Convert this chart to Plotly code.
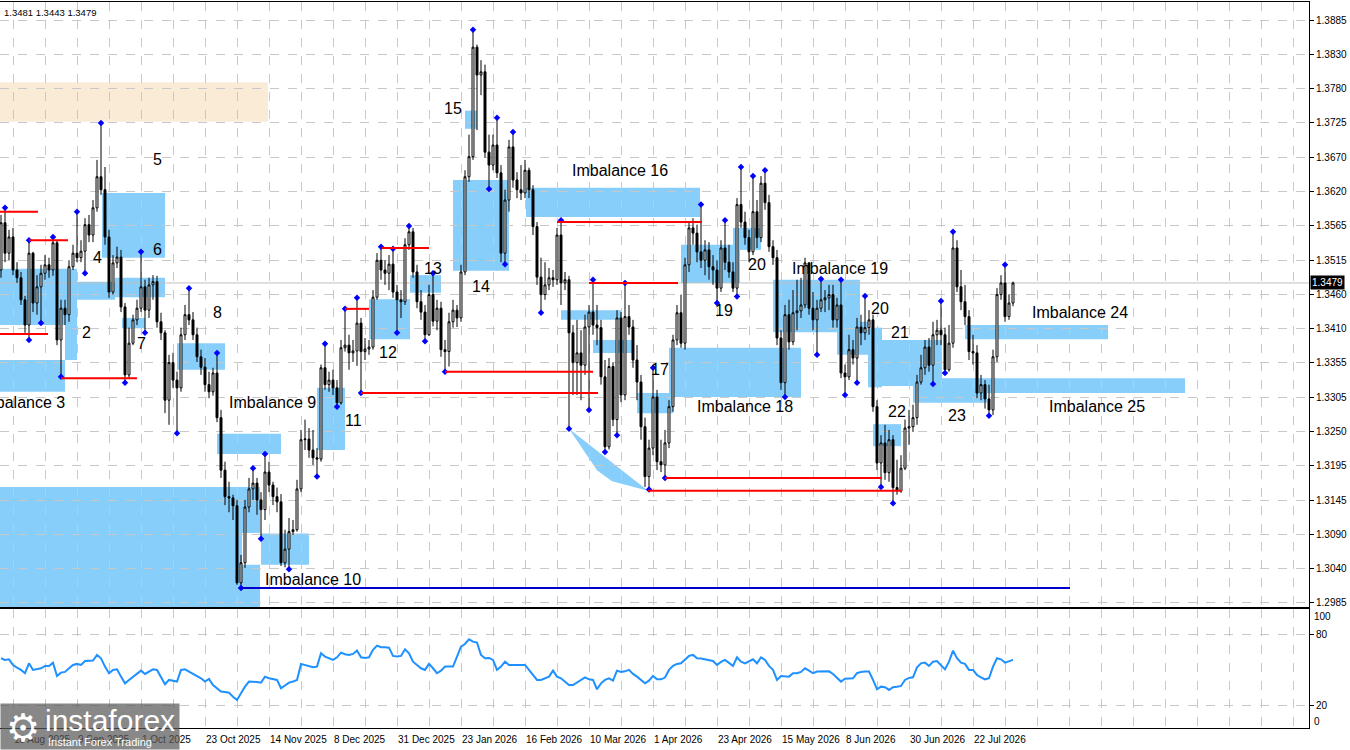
import plotly.graph_objects as go

# daily GBPUSD bars, one per trading day (bar 0 = 13 Aug 2025 ... bar 253 = 5 Aug 2026)
opens = [
    1.3499, 1.3572, 1.3525, 1.3550, 1.3499, 1.3487, 1.3453, 1.3414, 1.3525, 1.3448,
    1.3473, 1.3494, 1.3507, 1.3499, 1.3541, 1.3391, 1.3440, 1.3430, 1.3504, 1.3525,
    1.3518, 1.3528, 1.3569, 1.3553, 1.3595, 1.3643, 1.3623, 1.3550, 1.3465, 1.3510,
    1.3519, 1.3442, 1.3337, 1.3386, 1.3422, 1.3440, 1.3473, 1.3437, 1.3476, 1.3481,
    1.3419, 1.3402, 1.3298, 1.3356, 1.3329, 1.3317, 1.3399, 1.3430, 1.3422, 1.3399,
    1.3365, 1.3349, 1.3322, 1.3311, 1.3340, 1.3271, 1.3190, 1.3149, 1.3147, 1.3135,
    1.3016, 1.3047, 1.3133, 1.3161, 1.3170, 1.3144, 1.3129, 1.3187, 1.3167, 1.3149,
    1.3141, 1.3047, 1.3068, 1.3095, 1.3098, 1.3161, 1.3237, 1.3238, 1.3221, 1.3209,
    1.3207, 1.3348, 1.3322, 1.3329, 1.3317, 1.3294, 1.3379, 1.3383, 1.3371, 1.3374,
    1.3417, 1.3373, 1.3377, 1.3380, 1.3457, 1.3514, 1.3499, 1.3494, 1.3508, 1.3465,
    1.3453, 1.3450, 1.3538, 1.3558, 1.3496, 1.3450, 1.3434, 1.3399, 1.3461, 1.3420,
    1.3440, 1.3376, 1.3373, 1.3419, 1.3437, 1.3425, 1.3496, 1.3643, 1.3674, 1.3843,
    1.3800, 1.3805, 1.3681, 1.3661, 1.3692, 1.3649, 1.3525, 1.3607, 1.3689, 1.3638,
    1.3623, 1.3618, 1.3653, 1.3623, 1.3566, 1.3488, 1.3461, 1.3476, 1.3487, 1.3484,
    1.3553, 1.3479, 1.3484, 1.3402, 1.3356, 1.3371, 1.3352, 1.3411, 1.3434, 1.3414,
    1.3410, 1.3334, 1.3226, 1.3350, 1.3268, 1.3425, 1.3306, 1.3427, 1.3411, 1.3360,
    1.3326, 1.3257, 1.3180, 1.3224, 1.3303, 1.3203, 1.3198, 1.3232, 1.3288, 1.3391,
    1.3433, 1.3386, 1.3507, 1.3564, 1.3556, 1.3527, 1.3514, 1.3530, 1.3504, 1.3499,
    1.3471, 1.3533, 1.3511, 1.3496, 1.3471, 1.3600, 1.3573, 1.3549, 1.3527, 1.3589,
    1.3549, 1.3633, 1.3603, 1.3535, 1.3518, 1.3394, 1.3325, 1.3430, 1.3388, 1.3433,
    1.3436, 1.3445, 1.3510, 1.3440, 1.3422, 1.3440, 1.3453, 1.3456, 1.3461, 1.3422,
    1.3445, 1.3340, 1.3334, 1.3376, 1.3363, 1.3411, 1.3402, 1.3410, 1.3422, 1.3288,
    1.3201, 1.3232, 1.3186, 1.3237, 1.3163, 1.3158, 1.3193, 1.3255, 1.3257, 1.3271,
    1.3326, 1.3348, 1.3380, 1.3352, 1.3399, 1.3406, 1.3399, 1.3345, 1.3386, 1.3533,
    1.3473, 1.3450, 1.3427, 1.3373, 1.3371, 1.3309, 1.3322, 1.3300, 1.3283, 1.3365,
    1.3461, 1.3479, 1.3427, 1.3448,
]
highs = [
    1.3584, 1.3595, 1.3561, 1.3564, 1.3511, 1.3496, 1.3459, 1.3545, 1.3527, 1.3491,
    1.3507, 1.3522, 1.3518, 1.3550, 1.3545, 1.3453, 1.3453, 1.3514, 1.3538, 1.3589,
    1.3545, 1.3579, 1.3584, 1.3607, 1.3669, 1.3726, 1.3658, 1.3561, 1.3522, 1.3535,
    1.3530, 1.3448, 1.3410, 1.3430, 1.3453, 1.3527, 1.3484, 1.3487, 1.3491, 1.3490,
    1.3433, 1.3406, 1.3368, 1.3371, 1.3342, 1.3410, 1.3445, 1.3471, 1.3434, 1.3410,
    1.3376, 1.3363, 1.3342, 1.3348, 1.3371, 1.3283, 1.3203, 1.3172, 1.3152, 1.3144,
    1.3059, 1.3144, 1.3178, 1.3193, 1.3178, 1.3156, 1.3215, 1.3203, 1.3172, 1.3163,
    1.3153, 1.3098, 1.3116, 1.3113, 1.3175, 1.3252, 1.3268, 1.3255, 1.3252, 1.3224,
    1.3353, 1.3385, 1.3342, 1.3345, 1.3329, 1.3391, 1.3439, 1.3399, 1.3391, 1.3456,
    1.3425, 1.3394, 1.3391, 1.3468, 1.3525, 1.3535, 1.3514, 1.3522, 1.3532, 1.3476,
    1.3468, 1.3548, 1.3567, 1.3564, 1.3507, 1.3468, 1.3445, 1.3476, 1.3494, 1.3453,
    1.3450, 1.3391, 1.3433, 1.3453, 1.3445, 1.3507, 1.3653, 1.3708, 1.3870, 1.3847,
    1.3823, 1.3816, 1.3708, 1.3708, 1.3734, 1.3661, 1.3623, 1.3700, 1.3712, 1.3650,
    1.3661, 1.3669, 1.3657, 1.3630, 1.3573, 1.3518, 1.3511, 1.3502, 1.3499, 1.3564,
    1.3576, 1.3496, 1.3490, 1.3414, 1.3422, 1.3406, 1.3430, 1.3445, 1.3484, 1.3445,
    1.3422, 1.3360, 1.3363, 1.3356, 1.3437, 1.3434, 1.3479, 1.3445, 1.3422, 1.3383,
    1.3337, 1.3271, 1.3237, 1.3348, 1.3314, 1.3237, 1.3252, 1.3298, 1.3399, 1.3445,
    1.3461, 1.3518, 1.3573, 1.3579, 1.3569, 1.3600, 1.3545, 1.3542, 1.3522, 1.3514,
    1.3545, 1.3576, 1.3538, 1.3511, 1.3610, 1.3658, 1.3589, 1.3561, 1.3644, 1.3607,
    1.3644, 1.3653, 1.3615, 1.3545, 1.3530, 1.3406, 1.3445, 1.3453, 1.3468, 1.3484,
    1.3487, 1.3518, 1.3511, 1.3465, 1.3453, 1.3485, 1.3468, 1.3476, 1.3476, 1.3456,
    1.3484, 1.3353, 1.3399, 1.3391, 1.3425, 1.3430, 1.3459, 1.3437, 1.3430, 1.3298,
    1.3244, 1.3260, 1.3252, 1.3244, 1.3206, 1.3213, 1.3268, 1.3283, 1.3291, 1.3337,
    1.3368, 1.3391, 1.3394, 1.3419, 1.3422, 1.3451, 1.3410, 1.3414, 1.3558, 1.3545,
    1.3499, 1.3476, 1.3437, 1.3399, 1.3383, 1.3337, 1.3329, 1.3322, 1.3376, 1.3471,
    1.3491, 1.3507, 1.3461, 1.3481,
]
lows = [
    1.3487, 1.3511, 1.3514, 1.3491, 1.3479, 1.3445, 1.3402, 1.3391, 1.3434, 1.3430,
    1.3417, 1.3484, 1.3487, 1.3490, 1.3383, 1.3334, 1.3414, 1.3419, 1.3499, 1.3511,
    1.3511, 1.3494, 1.3542, 1.3542, 1.3589, 1.3615, 1.3538, 1.3456, 1.3461, 1.3502,
    1.3434, 1.3325, 1.3332, 1.3383, 1.3414, 1.3434, 1.3402, 1.3425, 1.3453, 1.3410,
    1.3391, 1.3278, 1.3260, 1.3317, 1.3247, 1.3311, 1.3391, 1.3414, 1.3391, 1.3357,
    1.3337, 1.3311, 1.3301, 1.3305, 1.3264, 1.3178, 1.3136, 1.3125, 1.3113, 1.3013,
    1.3008, 1.3039, 1.3125, 1.3144, 1.3121, 1.3084, 1.3113, 1.3156, 1.3136, 1.3125,
    1.3042, 1.3040, 1.3037, 1.3090, 1.3095, 1.3156, 1.3221, 1.3209, 1.3198, 1.3180,
    1.3203, 1.3314, 1.3311, 1.3306, 1.3288, 1.3291, 1.3373, 1.3345, 1.3357, 1.3351,
    1.3309, 1.3360, 1.3368, 1.3376, 1.3453, 1.3484, 1.3476, 1.3468, 1.3456, 1.3402,
    1.3425, 1.3445, 1.3530, 1.3487, 1.3440, 1.3422, 1.3389, 1.3397, 1.3412, 1.3406,
    1.3365, 1.3342, 1.3350, 1.3410, 1.3411, 1.3419, 1.3491, 1.3635, 1.3669, 1.3715,
    1.3769, 1.3672, 1.3624, 1.3653, 1.3641, 1.3511, 1.3508, 1.3589, 1.3626, 1.3610,
    1.3607, 1.3610, 1.3610, 1.3553, 1.3476, 1.3433, 1.3453, 1.3468, 1.3473, 1.3476,
    1.3445, 1.3468, 1.3254, 1.3306, 1.3306, 1.3298, 1.3337, 1.3283, 1.3399, 1.3383,
    1.3322, 1.3218, 1.3222, 1.3258, 1.3244, 1.3295, 1.3298, 1.3399, 1.3348, 1.3298,
    1.3237, 1.3164, 1.3160, 1.3213, 1.3190, 1.3187, 1.3178, 1.3224, 1.3280, 1.3383,
    1.3379, 1.3376, 1.3496, 1.3538, 1.3511, 1.3502, 1.3491, 1.3484, 1.3476, 1.3448,
    1.3465, 1.3499, 1.3487, 1.3465, 1.3458, 1.3564, 1.3538, 1.3511, 1.3522, 1.3533,
    1.3542, 1.3592, 1.3527, 1.3507, 1.3383, 1.3314, 1.3303, 1.3376, 1.3383, 1.3406,
    1.3425, 1.3440, 1.3430, 1.3406, 1.3368, 1.3434, 1.3434, 1.3437, 1.3410, 1.3410,
    1.3332, 1.3306, 1.3329, 1.3353, 1.3325, 1.3383, 1.3391, 1.3399, 1.3280, 1.3190,
    1.3164, 1.3175, 1.3172, 1.3139, 1.3152, 1.3155, 1.3190, 1.3229, 1.3249, 1.3260,
    1.3322, 1.3337, 1.3342, 1.3323, 1.3383, 1.3383, 1.3340, 1.3342, 1.3379, 1.3465,
    1.3437, 1.3414, 1.3360, 1.3353, 1.3301, 1.3298, 1.3285, 1.3274, 1.3275, 1.3357,
    1.3453, 1.3419, 1.3422, 1.3443,
]
closes = [
    1.3572, 1.3525, 1.3550, 1.3499, 1.3487, 1.3453, 1.3414, 1.3525, 1.3448, 1.3473,
    1.3494, 1.3507, 1.3499, 1.3541, 1.3391, 1.3440, 1.3430, 1.3504, 1.3525, 1.3518,
    1.3528, 1.3569, 1.3553, 1.3595, 1.3643, 1.3623, 1.3550, 1.3465, 1.3510, 1.3519,
    1.3442, 1.3337, 1.3386, 1.3422, 1.3440, 1.3473, 1.3437, 1.3476, 1.3481, 1.3419,
    1.3402, 1.3298, 1.3356, 1.3329, 1.3317, 1.3399, 1.3430, 1.3422, 1.3399, 1.3365,
    1.3349, 1.3322, 1.3311, 1.3340, 1.3271, 1.3190, 1.3149, 1.3147, 1.3135, 1.3016,
    1.3047, 1.3133, 1.3161, 1.3170, 1.3144, 1.3129, 1.3187, 1.3167, 1.3149, 1.3141,
    1.3047, 1.3068, 1.3095, 1.3098, 1.3161, 1.3237, 1.3238, 1.3221, 1.3209, 1.3207,
    1.3348, 1.3322, 1.3329, 1.3317, 1.3294, 1.3379, 1.3383, 1.3371, 1.3374, 1.3417,
    1.3373, 1.3377, 1.3380, 1.3457, 1.3514, 1.3499, 1.3494, 1.3508, 1.3465, 1.3453,
    1.3450, 1.3538, 1.3558, 1.3496, 1.3450, 1.3434, 1.3399, 1.3461, 1.3420, 1.3440,
    1.3376, 1.3373, 1.3419, 1.3437, 1.3425, 1.3496, 1.3643, 1.3674, 1.3843, 1.3800,
    1.3805, 1.3681, 1.3661, 1.3692, 1.3649, 1.3525, 1.3607, 1.3689, 1.3638, 1.3623,
    1.3618, 1.3653, 1.3623, 1.3566, 1.3488, 1.3461, 1.3476, 1.3487, 1.3484, 1.3553,
    1.3479, 1.3484, 1.3402, 1.3356, 1.3371, 1.3352, 1.3411, 1.3434, 1.3414, 1.3410,
    1.3334, 1.3226, 1.3350, 1.3268, 1.3425, 1.3306, 1.3427, 1.3411, 1.3360, 1.3326,
    1.3257, 1.3180, 1.3224, 1.3303, 1.3203, 1.3198, 1.3232, 1.3288, 1.3391, 1.3433,
    1.3386, 1.3507, 1.3564, 1.3556, 1.3527, 1.3514, 1.3530, 1.3504, 1.3499, 1.3471,
    1.3533, 1.3511, 1.3496, 1.3471, 1.3600, 1.3573, 1.3549, 1.3527, 1.3589, 1.3549,
    1.3633, 1.3603, 1.3535, 1.3518, 1.3394, 1.3325, 1.3430, 1.3388, 1.3433, 1.3436,
    1.3445, 1.3510, 1.3440, 1.3422, 1.3440, 1.3453, 1.3456, 1.3461, 1.3422, 1.3445,
    1.3340, 1.3334, 1.3376, 1.3363, 1.3411, 1.3402, 1.3410, 1.3422, 1.3288, 1.3201,
    1.3232, 1.3186, 1.3237, 1.3163, 1.3158, 1.3193, 1.3255, 1.3257, 1.3271, 1.3326,
    1.3348, 1.3380, 1.3352, 1.3399, 1.3406, 1.3399, 1.3345, 1.3386, 1.3533, 1.3473,
    1.3450, 1.3427, 1.3373, 1.3371, 1.3309, 1.3322, 1.3300, 1.3283, 1.3365, 1.3461,
    1.3479, 1.3427, 1.3448, 1.3479,
]
rsi = [
    59.7, 58.3, 58.8, 54.0, 51.8, 49.8, 47.0, 55.4, 49.8, 50.6,
    51.2, 53.2, 53.2, 56.0, 44.7, 47.5, 48.1, 51.2, 54.0, 54.9,
    54.0, 57.4, 57.4, 57.7, 62.5, 59.7, 52.6, 47.0, 49.8, 50.3,
    44.1, 38.4, 41.3, 44.1, 47.0, 49.2, 46.4, 48.4, 50.3, 49.8,
    44.1, 37.6, 41.3, 40.4, 39.9, 49.8, 50.3, 48.4, 46.4, 44.1,
    42.7, 39.9, 42.1, 37.0, 34.2, 31.4, 31.1, 30.5, 27.1, 24.3,
    30.0, 35.6, 39.9, 39.9, 39.6, 39.0, 44.1, 42.7, 41.8, 41.3,
    34.2, 37.0, 39.0, 39.9, 41.3, 54.9, 54.0, 52.6, 52.0, 52.6,
    63.9, 61.1, 59.7, 58.3, 60.5, 64.5, 63.1, 62.5, 63.4, 66.2,
    60.5, 60.0, 60.5, 66.8, 70.4, 69.0, 69.0, 68.7, 61.7, 61.1,
    61.7, 67.3, 63.9, 56.8, 54.0, 51.2, 49.8, 54.9, 51.2, 47.0,
    49.2, 52.6, 52.6, 52.6, 61.1, 69.6, 71.8, 75.8, 73.8, 73.0,
    62.5, 59.7, 60.0, 58.3, 49.8, 52.6, 56.8, 54.0, 54.0, 54.0,
    54.0, 54.0, 49.8, 45.5, 41.3, 41.3, 42.4, 44.1, 49.2, 44.1,
    42.7, 39.9, 37.0, 37.0, 39.0, 41.3, 43.5, 41.8, 41.3, 33.4,
    38.4, 41.3, 42.7, 40.7, 49.2, 48.1, 48.6, 49.8, 46.4, 44.1,
    41.3, 38.4, 40.7, 44.7, 41.8, 41.8, 43.3, 49.8, 53.2, 54.9,
    55.4, 58.3, 61.7, 62.5, 59.7, 59.4, 58.8, 58.3, 57.4, 54.0,
    56.6, 58.3, 55.4, 53.2, 60.5, 56.8, 55.4, 56.8, 58.8, 55.4,
    60.5, 58.3, 53.2, 49.8, 41.3, 44.7, 44.7, 44.1, 47.0, 47.0,
    48.1, 51.2, 49.2, 47.0, 48.4, 48.4, 48.9, 48.6, 46.4, 43.5,
    39.9, 42.4, 42.7, 42.7, 47.0, 48.1, 48.4, 48.4, 41.3, 33.4,
    35.6, 35.1, 32.8, 35.1, 35.6, 36.2, 41.3, 43.0, 43.5, 52.0,
    55.4, 56.0, 53.2, 56.8, 57.4, 54.0, 50.3, 56.8, 66.2, 59.7,
    56.0, 54.9, 49.8, 49.8, 45.5, 43.5, 41.8, 42.7, 52.6, 59.7,
    58.8, 56.0, 57.4, 58.3,
]

date_labels = ['18 Aug 2025', '9 Sep 2025', '1 Oct 2025', '23 Oct 2025', '14 Nov 2025',
               '8 Dec 2025', '31 Dec 2025', '23 Jan 2026', '16 Feb 2026', '10 Mar 2026',
               '1 Apr 2026', '23 Apr 2026', '15 May 2026', '8 Jun 2026', '30 Jun 2026',
               '22 Jul 2026']
price_labels = ['1.2985', '1.3040', '1.3090', '1.3145', '1.3195', '1.3250', '1.3305',
                '1.3355', '1.3410', '1.3460', '1.3515', '1.3565', '1.3620', '1.3670',
                '1.3725', '1.3780', '1.3830', '1.3885']

# swing points marked with blue dots
high_marks = [1, 7, 13, 19, 25, 35, 47, 54, 63, 66, 81, 86, 89, 95, 98, 102, 108, 118, 124,
              128, 140, 148, 156, 163, 175, 181, 185, 188, 191, 205, 210, 216, 235, 238, 251]
low_marks = [7, 10, 15, 21, 31, 36, 44, 60, 65, 72, 79, 84, 90, 99, 106, 111, 122, 126, 135,
             142, 147, 151, 154, 162, 166, 179, 184, 196, 204, 211, 214, 220, 223, 233, 236, 247]

# imbalance zones: (from bar, to bar, top, bottom)
zones = [
    (-0.25, 19, 1.3501, 1.3414), (16, 19, 1.3414, 1.3360), (-0.25, 16, 1.3360, 1.3311),
    (19, 28.5, 1.3481, 1.3453), (25.25, 41, 1.3618, 1.3518), (28.5, 41, 1.3487, 1.3457),
    (30.25, 36, 1.3425, 1.3409), (44, 56, 1.3386, 1.3345), (54, 70, 1.3246, 1.3215),
    (65, 77, 1.3092, 1.3044), (-0.25, 60.25, 1.3164, 1.2960), (60.25, 64.75, 1.3164, 1.3093),
    (60.25, 64.75, 1.3044, 1.2960), (79, 86, 1.3317, 1.3221), (92, 102.25, 1.3454, 1.3392),
    (102.25, 110, 1.3491, 1.3464), (113, 127, 1.3638, 1.3498), (116, 119, 1.3745, 1.3717),
    (131.25, 174.75, 1.3626, 1.3581), (140, 155.25, 1.3437, 1.3422),
    (148, 157.75, 1.3391, 1.3371), (159, 168, 1.3309, 1.3278), (167, 200, 1.3379, 1.3303),
    (170, 184.75, 1.3538, 1.3479), (183, 190, 1.3564, 1.3530), (193, 214.75, 1.3484, 1.3403),
    (209, 216.75, 1.3419, 1.3368), (216.75, 220.25, 1.3410, 1.3318),
    (219, 235.25, 1.3391, 1.3320), (218, 225, 1.3261, 1.3227), (228, 246.5, 1.3331, 1.3294),
    (241, 276.75, 1.3414, 1.3392), (234.75, 296, 1.3332, 1.3309),
]
supply_zone = (-0.25, 66.75, 1.3789, 1.3728)
wedge = [(142, 1.3254), (161.75, 1.3158), (152.75, 1.3173), (149, 1.3190)]

# red levels: (from bar, to bar, price)
levels = [
    (-0.25, 9.25, 1.3589), (-0.25, 11.75, 1.3400), (7, 16.75, 1.3545), (15, 34, 1.3332),
    (86, 92, 1.3439), (90, 149.25, 1.3309), (95.25, 107, 1.3533), (111, 148, 1.3342),
    (139, 175.25, 1.3573), (147, 169.25, 1.3479), (166, 220.25, 1.3178),
    (161.75, 225.25, 1.3158),
]
blue_level_end = 267.25
last_price = 1.3479

# text labels: (text, bar, price, anchor)
labels = [
    ('2', 21.25, 1.3402, 'center'), ('4', 24, 1.3518, 'center'), ('5', 39, 1.3669, 'center'),
    ('6', 39, 1.3530, 'center'), ('7', 35, 1.3385, 'center'), ('8', 54, 1.3434, 'center'),
    ('Imbalance 3', 16.5, 1.3295, 'right'), ('Imbalance 9', 56.5, 1.3295, 'left'),
    ('Imbalance 10', 65.5, 1.3021, 'left'), ('11', 88, 1.3266, 'center'),
    ('12', 96.75, 1.3372, 'center'), ('13', 108, 1.3502, 'center'),
    ('14', 120, 1.3474, 'center'), ('15', 113, 1.3748, 'center'),
    ('Imbalance 16', 142.25, 1.3652, 'left'), ('17', 164.75, 1.3345, 'center'),
    ('Imbalance 18', 173.5, 1.3289, 'left'), ('19', 180.75, 1.3436, 'center'),
    ('20', 189, 1.3507, 'center'), ('Imbalance 19', 197.25, 1.3502, 'left'),
    ('20', 219.75, 1.3440, 'center'), ('21', 224.75, 1.3403, 'center'),
    ('22', 224, 1.3280, 'center'), ('23', 239, 1.3274, 'center'),
    ('Imbalance 24', 257.25, 1.3433, 'left'), ('Imbalance 25', 261.5, 1.3289, 'left'),
]

bars = list(range(len(closes)))
x_range = [-0.25, 327]
grid_bars = list(range(3, 327, 8))
date_bars = list(range(3, 244, 16))
price_ticks = [1.2985 + i * (1.3885 - 1.2985) / 17 for i in range(18)]

FONT = 'Liberation Sans'
SKY = '#87CEFA'
GRID = '#C8C8C8'

fig = go.Figure()

fig.add_trace(go.Candlestick(
    x=bars, open=opens, high=highs, low=lows, close=closes,
    increasing=dict(line=dict(color='black', width=1), fillcolor='white'),
    decreasing=dict(line=dict(color='black', width=1), fillcolor='black'),
    whiskerwidth=0, hoverinfo='skip', xaxis='x', yaxis='y'))

fig.add_trace(go.Scatter(
    x=high_marks, y=[highs[i] for i in high_marks], mode='markers',
    marker=dict(symbol='diamond', size=5, color='#0000FF'), xaxis='x', yaxis='y'))
fig.add_trace(go.Scatter(
    x=low_marks, y=[lows[i] for i in low_marks], mode='markers',
    marker=dict(symbol='diamond', size=5, color='#0000FF'), xaxis='x', yaxis='y'))

fig.add_trace(go.Scatter(
    x=bars, y=rsi, mode='lines', line=dict(color='#1E90FF', width=2),
    xaxis='x2', yaxis='y2'))

# zones (under the grid)
fig.add_shape(type='rect', xref='x', yref='y', x0=supply_zone[0], x1=supply_zone[1],
              y0=supply_zone[3], y1=supply_zone[2], fillcolor='#FAEBD7',
              line=dict(width=0), layer='below')
for x0, x1, top, bottom in zones:
    fig.add_shape(type='rect', xref='x', yref='y', x0=x0, x1=x1, y0=bottom, y1=top,
                  fillcolor=SKY, line=dict(width=0), layer='below')
path = 'M ' + ' L '.join(f'{x},{y}' for x, y in wedge) + ' Z'
fig.add_shape(type='path', xref='x', yref='y', path=path, fillcolor=SKY,
              line=dict(width=0), layer='below')

# current price line
fig.add_shape(type='line', xref='x', yref='y', x0=x_range[0], x1=x_range[1],
              y0=last_price, y1=last_price, line=dict(color='#C0C0C0', width=1),
              layer='below')

for x0, x1, price in levels:
    fig.add_shape(type='line', xref='x', yref='y', x0=x0, x1=x1, y0=price, y1=price,
                  line=dict(color='#FF0000', width=2))
fig.add_shape(type='line', xref='x', yref='y', x0=60, x1=blue_level_end,
              y0=lows[60], y1=lows[60], line=dict(color='#0000CD', width=2))

for text, bar, price, anchor in labels:
    fig.add_annotation(x=bar, y=price, xref='x', yref='y', text=text, showarrow=False,
                       xanchor=anchor, yanchor='middle',
                       font=dict(family=FONT, size=16, color='black'))

# header
fig.add_annotation(x=0.0015, y=1, xref='paper', yref='paper', yshift=-3,
                   text='1.3481 1.3443 1.3479', showarrow=False, xanchor='left',
                   yanchor='top', font=dict(family=FONT, size=9.5, color='black'))

# dates
for bar, text in zip(date_bars, date_labels):
    fig.add_annotation(x=bar - 0.3, y=-0.0165, xref='x2', yref='paper', text=text,
                       showarrow=False, xanchor='left', yanchor='middle',
                       font=dict(family=FONT, size=10, color='black'))

# RSI scale ends
fig.add_annotation(x=1, y=95, xref='paper', yref='y2', xshift=3, text='100',
                   showarrow=False, xanchor='left', yanchor='middle',
                   font=dict(family=FONT, size=10, color='black'))
fig.add_annotation(x=1, y=6, xref='paper', yref='y2', xshift=3, text='0',
                   showarrow=False, xanchor='left', yanchor='middle',
                   font=dict(family=FONT, size=10, color='black'))

# last price tag
fig.add_annotation(x=1, y=last_price, xref='paper', yref='y', xshift=1, text='1.3479',
                   showarrow=False, xanchor='left', yanchor='middle', bgcolor='black',
                   borderpad=1, font=dict(family=FONT, size=10, color='white'))

# watermark
fig.add_annotation(x=0, y=-0.0303, xref='paper', yref='paper', text=' ', showarrow=False,
                   xanchor='left', yanchor='bottom', width=178, height=45, borderpad=0,
                   bgcolor='rgba(90,90,90,0.72)')
fig.add_annotation(x=0.0176, y=0.0, xref='paper', yref='paper', text='\u2699',
                   showarrow=False, xanchor='center', yanchor='middle',
                   font=dict(family='DejaVu Sans', size=38, color='white'))
fig.add_annotation(x=0.0330, y=0.011, xref='paper', yref='paper', text='instaforex',
                   showarrow=False, xanchor='left', yanchor='middle',
                   font=dict(family=FONT, size=30, color='white'))
fig.add_annotation(x=0.0355, y=-0.0195, xref='paper', yref='paper',
                   text='Instant Forex Trading', showarrow=False, xanchor='left',
                   yanchor='middle', font=dict(family=FONT, size=11, color='white'))

axis_font = dict(family=FONT, size=10, color='black')
fig.update_layout(
    width=1350, height=750,
    margin=dict(l=0, r=41, t=2, b=22),
    plot_bgcolor='white', paper_bgcolor='white',
    showlegend=False,
    xaxis=dict(domain=[0, 1], anchor='y', range=x_range, rangeslider=dict(visible=False),
               tickvals=grid_bars, showticklabels=False, ticks='', showgrid=True,
               gridcolor=GRID, griddash='dash', gridwidth=1, zeroline=False,
               showline=True, mirror=True, linecolor='black', linewidth=1),
    yaxis=dict(domain=[0.1667, 1], anchor='x', side='right', range=[1.29787, 1.39128],
               tickvals=price_ticks, ticktext=price_labels, ticks='outside', ticklen=4,
               tickcolor='black', showline=True, linecolor='black', linewidth=1,
               showgrid=True, gridcolor=GRID, griddash='dash', zeroline=False,
               tickfont=axis_font),
    xaxis2=dict(domain=[0, 1], anchor='y2', range=x_range, tickvals=grid_bars,
                showticklabels=False, ticks='', showgrid=True, gridcolor=GRID,
                griddash='dash', zeroline=False, showline=True, mirror=True,
                linecolor='black', linewidth=1),
    yaxis2=dict(domain=[0, 0.1639], anchor='x2', side='right', range=[0.5, 101.5],
                tickvals=[80, 20], ticktext=['80', '20'], ticks='outside', ticklen=4,
                tickcolor='black', showline=True, linecolor='black', linewidth=1,
                showgrid=True, gridcolor=GRID, griddash='dash', zeroline=False,
                tickfont=axis_font),
)

fig.write_html('out.html', config={'displayModeBar': False},
               post_script="document.body.style.margin='0';")
